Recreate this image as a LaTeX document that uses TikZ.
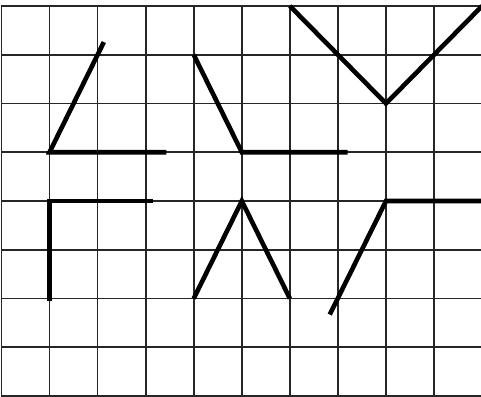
\documentclass[tikz,border=0pt]{standalone}
\begin{document}
\begin{tikzpicture}[x={(24.03pt,0)},y={(0,-24.375pt)},
  gridline/.style={line width=0.85pt,draw=black!85},
  figline/.style={line width=2.3pt,draw=black,line join=miter}]
\useasboundingbox (-0.031,-0.123) rectangle (9.977,8.02);
\begin{scope}
\clip (-0.031,-0.123) rectangle (9.977,8.02);
\foreach \i in {0,...,10} \draw[gridline] (\i,0) -- (\i,8);
\foreach \j in {0,...,8} \draw[gridline] (0,\j) -- (10.2,\j);
% top row figures
\draw[figline] (2.13,0.74) -- (1,3) -- (3.43,3);
\draw[figline] (4,1) -- (5,3) -- (7.2,3);
\draw[figline] (6,0) -- (8,2) -- (10,0);
% bottom row figures
\draw[figline] (1,6.05) -- (1,4) -- (3.15,4);
\draw[figline] (4,6) -- (5,4) -- (6,6);
\draw[figline] (6.83,6.33) -- (8,4) -- (10.2,4);
\end{scope}
\end{tikzpicture}
\end{document}
